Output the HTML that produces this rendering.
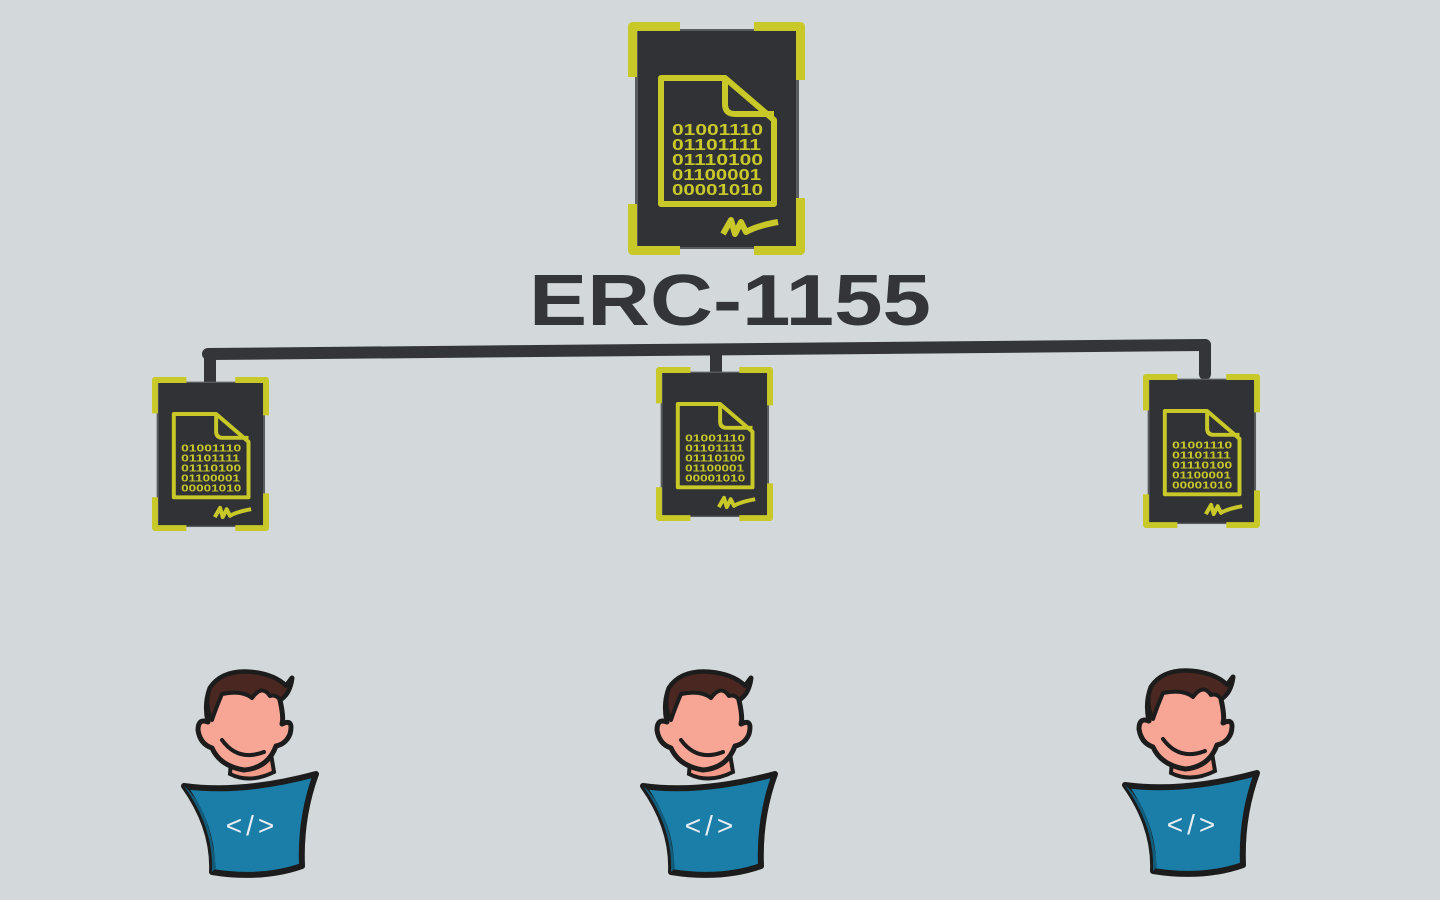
<!DOCTYPE html>
<html><head><meta charset="utf-8"><style>
html,body{margin:0;padding:0;background:#d3d8db;}
svg{display:block}
</style></head><body>
<svg width="1440" height="900" viewBox="0 0 1440 900" xmlns="http://www.w3.org/2000/svg">
<rect width="1440" height="900" fill="#d3d8db"/>
<g stroke="#333538" stroke-width="12" stroke-linecap="round" fill="none">
<path d="M208 354 L1205 345"/>
<path d="M210 354 V382"/>
<path d="M716 350 V372"/>
<path d="M1205 345 V374"/>
</g>
<text x="730" y="325" text-anchor="middle" font-family="Liberation Sans, sans-serif" font-weight="bold" font-size="72" fill="#333538" textLength="402" lengthAdjust="spacingAndGlyphs">ERC-1155</text>

<g transform="translate(628,22)">
<rect x="7" y="7" width="164" height="220" fill="#5a5c5e"/>
<rect x="10" y="9" width="158" height="216" fill="#303236"/>
<g fill="none" stroke="#c8c829" stroke-width="9" stroke-linejoin="round">
<path d="M4.5 55 V4.5 H52"/><path d="M126 4.5 H172.5 V58"/>
<path d="M4.5 182 V228.5 H52"/><path d="M126 228.5 H172.5 V176"/>
</g>
<g fill="none" stroke="#c8c829" stroke-width="6" stroke-linejoin="round">
<path d="M33 56 H97 L146 98 V182 H33 Z"/>
<path d="M97 56 V82 Q97 92 107 92 H146"/>
<path d="M95 212 L103 198 L107 212 L113 200 L118 210 Q128 204 150 200"/>
</g>
<g font-family="Liberation Sans, sans-serif" font-weight="bold" font-size="16" fill="#c8c829">
<text x="44" y="113" textLength="91" lengthAdjust="spacingAndGlyphs">01001110</text>
<text x="44" y="128" textLength="89" lengthAdjust="spacingAndGlyphs">01101111</text>
<text x="44" y="143" textLength="91" lengthAdjust="spacingAndGlyphs">01110100</text>
<text x="44" y="158" textLength="89" lengthAdjust="spacingAndGlyphs">01100001</text>
<text x="44" y="173" textLength="91" lengthAdjust="spacingAndGlyphs">00001010</text>
</g>
</g>

<g transform="translate(152,377) scale(0.661)">
<rect x="7" y="7" width="164" height="220" fill="#5a5c5e"/>
<rect x="10" y="9" width="158" height="216" fill="#303236"/>
<g fill="none" stroke="#c8c829" stroke-width="9" stroke-linejoin="round">
<path d="M4.5 55 V4.5 H52"/><path d="M126 4.5 H172.5 V58"/>
<path d="M4.5 182 V228.5 H52"/><path d="M126 228.5 H172.5 V176"/>
</g>
<g fill="none" stroke="#c8c829" stroke-width="6" stroke-linejoin="round">
<path d="M33 56 H97 L146 98 V182 H33 Z"/>
<path d="M97 56 V82 Q97 92 107 92 H146"/>
<path d="M95 212 L103 198 L107 212 L113 200 L118 210 Q128 204 150 200"/>
</g>
<g font-family="Liberation Sans, sans-serif" font-weight="bold" font-size="16" fill="#c8c829">
<text x="44" y="113" textLength="91" lengthAdjust="spacingAndGlyphs">01001110</text>
<text x="44" y="128" textLength="89" lengthAdjust="spacingAndGlyphs">01101111</text>
<text x="44" y="143" textLength="91" lengthAdjust="spacingAndGlyphs">01110100</text>
<text x="44" y="158" textLength="89" lengthAdjust="spacingAndGlyphs">01100001</text>
<text x="44" y="173" textLength="91" lengthAdjust="spacingAndGlyphs">00001010</text>
</g>
</g>

<g transform="translate(656,367) scale(0.661)">
<rect x="7" y="7" width="164" height="220" fill="#5a5c5e"/>
<rect x="10" y="9" width="158" height="216" fill="#303236"/>
<g fill="none" stroke="#c8c829" stroke-width="9" stroke-linejoin="round">
<path d="M4.5 55 V4.5 H52"/><path d="M126 4.5 H172.5 V58"/>
<path d="M4.5 182 V228.5 H52"/><path d="M126 228.5 H172.5 V176"/>
</g>
<g fill="none" stroke="#c8c829" stroke-width="6" stroke-linejoin="round">
<path d="M33 56 H97 L146 98 V182 H33 Z"/>
<path d="M97 56 V82 Q97 92 107 92 H146"/>
<path d="M95 212 L103 198 L107 212 L113 200 L118 210 Q128 204 150 200"/>
</g>
<g font-family="Liberation Sans, sans-serif" font-weight="bold" font-size="16" fill="#c8c829">
<text x="44" y="113" textLength="91" lengthAdjust="spacingAndGlyphs">01001110</text>
<text x="44" y="128" textLength="89" lengthAdjust="spacingAndGlyphs">01101111</text>
<text x="44" y="143" textLength="91" lengthAdjust="spacingAndGlyphs">01110100</text>
<text x="44" y="158" textLength="89" lengthAdjust="spacingAndGlyphs">01100001</text>
<text x="44" y="173" textLength="91" lengthAdjust="spacingAndGlyphs">00001010</text>
</g>
</g>

<g transform="translate(1143,374) scale(0.661)">
<rect x="7" y="7" width="164" height="220" fill="#5a5c5e"/>
<rect x="10" y="9" width="158" height="216" fill="#303236"/>
<g fill="none" stroke="#c8c829" stroke-width="9" stroke-linejoin="round">
<path d="M4.5 55 V4.5 H52"/><path d="M126 4.5 H172.5 V58"/>
<path d="M4.5 182 V228.5 H52"/><path d="M126 228.5 H172.5 V176"/>
</g>
<g fill="none" stroke="#c8c829" stroke-width="6" stroke-linejoin="round">
<path d="M33 56 H97 L146 98 V182 H33 Z"/>
<path d="M97 56 V82 Q97 92 107 92 H146"/>
<path d="M95 212 L103 198 L107 212 L113 200 L118 210 Q128 204 150 200"/>
</g>
<g font-family="Liberation Sans, sans-serif" font-weight="bold" font-size="16" fill="#c8c829">
<text x="44" y="113" textLength="91" lengthAdjust="spacingAndGlyphs">01001110</text>
<text x="44" y="128" textLength="89" lengthAdjust="spacingAndGlyphs">01101111</text>
<text x="44" y="143" textLength="91" lengthAdjust="spacingAndGlyphs">01110100</text>
<text x="44" y="158" textLength="89" lengthAdjust="spacingAndGlyphs">01100001</text>
<text x="44" y="173" textLength="91" lengthAdjust="spacingAndGlyphs">00001010</text>
</g>
</g>

<g transform="translate(182,668)">
<path d="M50 80 L48 106 Q68 116 92 104 L88 80 Z" fill="#f29a88" stroke="#1c1c1c" stroke-width="4"/>
<path d="M28 20 Q40 2 68 4 Q92 6 104 18 L110 10 Q108 26 98 32 Q102 50 100 56 Q112 50 108 66 Q104 76 94 78 Q86 100 62 102 Q38 98 30 80 Q18 76 16 62 Q16 50 26 54 Q22 36 28 20 Z" fill="#f7a595" stroke="#1c1c1c" stroke-width="5" stroke-linejoin="round"/>
<path d="M28 20 Q40 2 68 4 Q92 6 104 18 L110 10 Q108 26 98 32 Q94 26 88 28 Q80 16 70 30 Q60 22 40 26 Q34 40 30 52 Q22 38 28 20 Z" fill="#4a2720" stroke="#1c1c1c" stroke-width="4" stroke-linejoin="round"/>
<path d="M40 72 Q56 94 82 84" fill="none" stroke="#1c1c1c" stroke-width="4" stroke-linecap="round"/>
<path d="M2 118 Q60 126 134 106 Q118 150 120 198 Q80 212 30 204 Q32 160 2 118 Z" fill="#1a7ea8" stroke="#1c1c1c" stroke-width="6" stroke-linejoin="round"/>
<path d="M2 118 Q28 140 34 200 L30 204 Q32 160 2 118 Z" fill="#135d7c"/>
<text x="70" y="167" text-anchor="middle" font-family="Liberation Sans, sans-serif" font-size="28" letter-spacing="4" fill="#e8eef2">&lt;/&gt;</text>
</g>
<g transform="translate(641,668)">
<path d="M50 80 L48 106 Q68 116 92 104 L88 80 Z" fill="#f29a88" stroke="#1c1c1c" stroke-width="4"/>
<path d="M28 20 Q40 2 68 4 Q92 6 104 18 L110 10 Q108 26 98 32 Q102 50 100 56 Q112 50 108 66 Q104 76 94 78 Q86 100 62 102 Q38 98 30 80 Q18 76 16 62 Q16 50 26 54 Q22 36 28 20 Z" fill="#f7a595" stroke="#1c1c1c" stroke-width="5" stroke-linejoin="round"/>
<path d="M28 20 Q40 2 68 4 Q92 6 104 18 L110 10 Q108 26 98 32 Q94 26 88 28 Q80 16 70 30 Q60 22 40 26 Q34 40 30 52 Q22 38 28 20 Z" fill="#4a2720" stroke="#1c1c1c" stroke-width="4" stroke-linejoin="round"/>
<path d="M40 72 Q56 94 82 84" fill="none" stroke="#1c1c1c" stroke-width="4" stroke-linecap="round"/>
<path d="M2 118 Q60 126 134 106 Q118 150 120 198 Q80 212 30 204 Q32 160 2 118 Z" fill="#1a7ea8" stroke="#1c1c1c" stroke-width="6" stroke-linejoin="round"/>
<path d="M2 118 Q28 140 34 200 L30 204 Q32 160 2 118 Z" fill="#135d7c"/>
<text x="70" y="167" text-anchor="middle" font-family="Liberation Sans, sans-serif" font-size="28" letter-spacing="4" fill="#e8eef2">&lt;/&gt;</text>
</g>
<g transform="translate(1123,667)">
<path d="M50 80 L48 106 Q68 116 92 104 L88 80 Z" fill="#f29a88" stroke="#1c1c1c" stroke-width="4"/>
<path d="M28 20 Q40 2 68 4 Q92 6 104 18 L110 10 Q108 26 98 32 Q102 50 100 56 Q112 50 108 66 Q104 76 94 78 Q86 100 62 102 Q38 98 30 80 Q18 76 16 62 Q16 50 26 54 Q22 36 28 20 Z" fill="#f7a595" stroke="#1c1c1c" stroke-width="5" stroke-linejoin="round"/>
<path d="M28 20 Q40 2 68 4 Q92 6 104 18 L110 10 Q108 26 98 32 Q94 26 88 28 Q80 16 70 30 Q60 22 40 26 Q34 40 30 52 Q22 38 28 20 Z" fill="#4a2720" stroke="#1c1c1c" stroke-width="4" stroke-linejoin="round"/>
<path d="M40 72 Q56 94 82 84" fill="none" stroke="#1c1c1c" stroke-width="4" stroke-linecap="round"/>
<path d="M2 118 Q60 126 134 106 Q118 150 120 198 Q80 212 30 204 Q32 160 2 118 Z" fill="#1a7ea8" stroke="#1c1c1c" stroke-width="6" stroke-linejoin="round"/>
<path d="M2 118 Q28 140 34 200 L30 204 Q32 160 2 118 Z" fill="#135d7c"/>
<text x="70" y="167" text-anchor="middle" font-family="Liberation Sans, sans-serif" font-size="28" letter-spacing="4" fill="#e8eef2">&lt;/&gt;</text>
</g>
</svg>
</body></html>
